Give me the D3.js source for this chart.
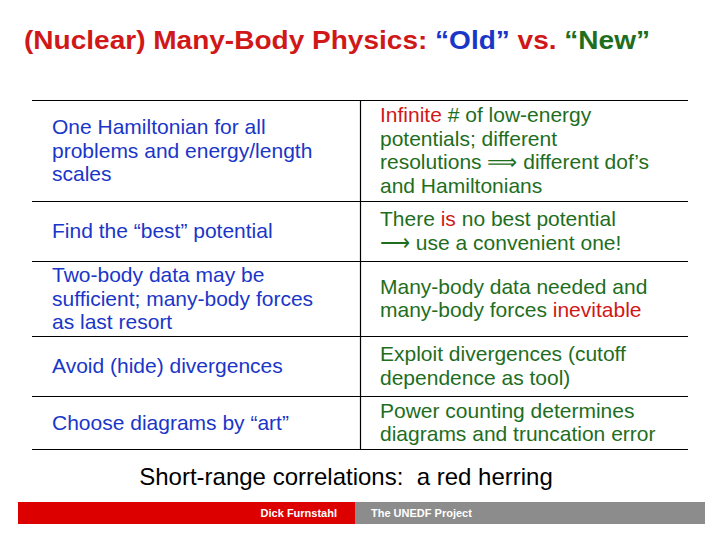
<!DOCTYPE html>
<html><head><meta charset="utf-8">
<script src="https://cdn.jsdelivr.net/npm/d3@7"></script>
<style>body{margin:0;background:#fff}</style>
</head><body><div id="chart"></div>
<script>
var BLUE = "#1a36c8", GREEN = "#1e6e1e", RED = "#d01818";
// row boundaries of the table (slide units)
var rowEdges = [100, 201, 261, 336, 396, 449];
var oldRows = [
  ["One Hamiltonian for all", "problems and energy/length", "scales"],
  ["Find the \u201cbest\u201d potential"],
  ["Two-body data may be", "sufficient; many-body forces", "as last resort"],
  ["Avoid (hide) divergences"],
  ["Choose diagrams by \u201cart\u201d"]
];
// each line: list of [text, isRed]
var newRows = [
  [[["Infinite", 1], [" # of low-energy", 0]], [["potentials; different", 0]],
   [["resolutions \u27F9 different dof\u2019s", 0]], [["and Hamiltonians", 0]]],
  [[["There ", 0], ["is", 1], [" no best potential", 0]], [["\u27F6 use a convenient one!", 0]]],
  [[["Many-body data needed and", 0]], [["many-body forces ", 0], ["inevitable", 1]]],
  [[["Exploit divergences (cutoff", 0]], [["dependence as tool)", 0]]],
  [[["Power counting determines", 0]], [["diagrams and truncation error", 0]]]
];
var titleParts = [["(Nuclear) Many-Body Physics: ", RED], ["\u201cOld\u201d", BLUE], [" vs. ", RED], ["\u201cNew\u201d", GREEN]];
var footerLeft = "Dick Furnstahl", footerRight = "The UNEDF Project";
var bottomNote = "Short-range correlations:  a red herring";

var width = 720, height = 540, lineH = 23.5;
var svg = d3.select("#chart").append("svg")
    .attr("width", width).attr("height", height)
    .attr("font-family", "Liberation Sans, Arial, sans-serif");

var title = svg.append("text").attr("x", 24).attr("y", 49)
    .attr("font-size", 26).attr("font-weight", "bold")
    .attr("textLength", 626).attr("lengthAdjust", "spacingAndGlyphs");
titleParts.forEach(function(p){ title.append("tspan").attr("fill", p[1]).text(p[0]); });

// table lines
svg.selectAll("line.h").data(rowEdges).enter().append("line")
    .attr("x1", 32).attr("x2", 688).attr("y1", d => d + 0.5).attr("y2", d => d + 0.5)
    .attr("stroke", "#000").attr("stroke-width", 1.2);
svg.append("line").attr("x1", 360.5).attr("x2", 360.5).attr("y1", rowEdges[0]).attr("y2", rowEdges[5])
    .attr("stroke", "#000").attr("stroke-width", 1.2);

function rowMid(i){ return (rowEdges[i] + rowEdges[i + 1]) / 2; }

oldRows.forEach(function(lines, i){
  var y0 = rowMid(i) - (lines.length - 1) * lineH / 2 + 7;
  lines.forEach(function(t, j){
    svg.append("text").attr("x", 52).attr("y", y0 + j * lineH)
      .attr("font-size", 21).attr("fill", BLUE).text(t);
  });
});
newRows.forEach(function(lines, i){
  var y0 = rowMid(i) - (lines.length - 1) * lineH / 2 + 7;
  lines.forEach(function(segs, j){
    var t = svg.append("text").attr("x", 380).attr("y", y0 + j * lineH)
      .attr("font-size", 21).attr("xml:space", "preserve");
    segs.forEach(function(s){ t.append("tspan").attr("fill", s[1] ? RED : GREEN).text(s[0]); });
  });
});

svg.append("text").attr("x", 346).attr("y", 485).attr("text-anchor", "middle")
    .attr("font-size", 24).attr("fill", "#000").attr("xml:space", "preserve").text(bottomNote);

// footer bar
svg.append("rect").attr("x", 18).attr("y", 502).attr("width", 337).attr("height", 22).attr("fill", "#dd0000");
svg.append("rect").attr("x", 355).attr("y", 502).attr("width", 350).attr("height", 22).attr("fill", "#8c8c8c");
svg.append("text").attr("x", 337).attr("y", 517).attr("text-anchor", "end")
    .attr("font-size", 11).attr("font-weight", "bold").attr("fill", "#fff").text(footerLeft);
svg.append("text").attr("x", 371).attr("y", 517)
    .attr("font-size", 11).attr("font-weight", "bold").attr("fill", "#fff").text(footerRight);
</script></body></html>
